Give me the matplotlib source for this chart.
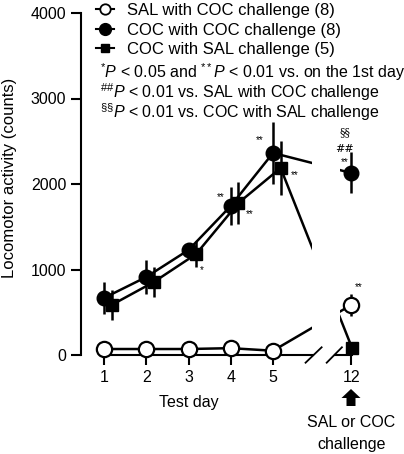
import matplotlib
matplotlib.use("Agg")
import matplotlib.pyplot as plt
import matplotlib.transforms as mtransforms
from matplotlib.lines import Line2D
from matplotlib.patches import FancyArrow

plt.rcParams['font.family'] = ['Liberation Sans', 'DejaVu Sans']
plt.rcParams['mathtext.fontset'] = 'custom'
plt.rcParams['mathtext.rm'] = 'Liberation Sans'
plt.rcParams['mathtext.it'] = 'Liberation Sans:italic'

# data
days = [1, 2, 3, 4, 5, 12]
sal_coc = [70, 70, 70, 80, 50, 585]
sal_coc_err = [50, 50, 50, 50, 50, 130]
coc_coc = [667, 912, 1228, 1743, 2363, 2129]
coc_coc_err = [185, 200, 80, 220, 360, 240]
coc_sal = [585, 854, 1181, 1778, 2187, 82]
coc_sal_err = [180, 170, 150, 240, 315, 60]

labels = ['SAL with COC challenge (8)', 'COC with COC challenge (8)',
          'COC with SAL challenge (5)']
notes = [r'$^{*}P$ < 0.05 and $^{**}P$ < 0.01 vs. on the 1st day',
         r'$^{\#\#}P$ < 0.01 vs. SAL with COC challenge',
         r'$^{\S\S}P$ < 0.01 vs. COC with SAL challenge']
stars = [  # (series, day index, text, dx in px, dy in counts)
    ('coc_coc', 3, '**', -10, 100),
    ('coc_sal', 3, '**', 11, -130),
    ('coc_sal', 2, '*', 6, -190),
    ('coc_coc', 4, '**', -13, 150),
    ('coc_sal', 4, '**', 14, -80),
    ('sal_coc', 5, '**', 7, 210),
]

# day 12 sits after an axis break
xpos = [1, 2, 3, 4, 5, 6.85]
shift = [0.18, 0.18, 0.18, 0.18, 0.18, 0.02]
xsq = [a + b for a, b in zip(xpos, shift)]

fig = plt.figure(figsize=(4.04, 4.54), dpi=100)
ax = fig.add_axes([81 / 404, 99 / 454, 285 / 404, 342 / 454])

lw = 1.8
ax.plot(xpos, sal_coc, color='black', lw=lw, zorder=2)
ax.plot(xpos, coc_coc, color='black', lw=lw, zorder=2)
ax.plot(xsq, coc_sal, color='black', lw=lw, zorder=2)
ax.errorbar(xpos, sal_coc, yerr=sal_coc_err, fmt='none', ecolor='black', elinewidth=1.8, zorder=2)
ax.errorbar(xpos, coc_coc, yerr=coc_coc_err, fmt='none', ecolor='black', elinewidth=1.8, zorder=2)
ax.errorbar(xsq, coc_sal, yerr=coc_sal_err, fmt='none', ecolor='black', elinewidth=1.8, zorder=2)

# blank out the lines where the axis is broken
ax.fill_between([5.93, 6.58], -300, 2500, color='white', lw=0, zorder=2.5)

ax.plot(xsq, coc_sal, ls='none', marker='s', ms=8, color='black', zorder=3, clip_on=False)
ax.plot(xpos, coc_coc, ls='none', marker='o', ms=10.5, color='black', zorder=3.5, clip_on=False)
ax.plot(xpos, sal_coc, ls='none', marker='o', ms=11, mfc='white', mec='black', mew=1.6,
        zorder=4, clip_on=False)

ax.set_xlim(0.456, 7.2)
ax.set_ylim(0, 4000)
ax.set_yticks([0, 1000, 2000, 3000, 4000])
ax.set_xticks(xpos)
ax.set_xticklabels([str(d) for d in days])
ax.tick_params(direction='out', length=7.5, width=1.5, labelsize=11.5, pad=3)
for s in ['top', 'right']:
    ax.spines[s].set_visible(False)
ax.spines['left'].set_linewidth(1.5)
ax.spines['bottom'].set_linewidth(1.5)
ax.spines['bottom'].set_bounds(1, 5.95)
ax.plot([6.47, 6.87], [0, 0], color='black', lw=1.5, clip_on=False, zorder=5)
ax.plot([5.77, 6.15], [-90, 90], color='black', lw=1.3, clip_on=False, zorder=5)
ax.plot([6.27, 6.63], [-90, 90], color='black', lw=1.3, clip_on=False, zorder=5)

fig.text(10 / 404, 1 - 178 / 454, 'Locomotor activity (counts)', rotation=90,
         fontsize=12, ha='center', va='center')
ax.text(3, -560, 'Test day', fontsize=11.5, ha='center', va='center')

# significance marks
series = {'sal_coc': (xpos, sal_coc), 'coc_coc': (xpos, coc_coc), 'coc_sal': (xsq, coc_sal)}
for name, i, txt, dx, dy in stars:
    xs, ys = series[name]
    ax.text(xs[i] + dx / 42.25, ys[i] + dy, txt, fontsize=7, ha='center', va='center')
ax.text(6.7, 2610, '§§', fontsize=8, ha='center', va='center', family='DejaVu Serif')
ax.text(6.7, 2410, '##', fontsize=8, ha='center', va='center', style='italic', family='DejaVu Serif')
ax.text(6.7, 2260, '**', fontsize=7, ha='center', va='center')

# challenge arrow, drawn in figure pixels
px = mtransforms.Affine2D().scale(1 / 404, 1 / 454) + fig.transFigure
fig.patches.append(FancyArrow(351, 454 - 406, 0, 17, width=9, head_width=19, head_length=9,
                              length_includes_head=True, color='black', lw=0, transform=px))
ax.text(6.85, -795, 'SAL or COC', fontsize=11.5, ha='center', va='center')
ax.text(6.85, -1050, 'challenge', fontsize=11.5, ha='center', va='center')

handles = [
    Line2D([], [], color='black', lw=1.5, marker='o', ms=7.5, mfc='white', mec='black', mew=1.3),
    Line2D([], [], color='black', lw=1.5, marker='o', ms=8.5),
    Line2D([], [], color='black', lw=1.5, marker='s', ms=5.5),
]
fig.legend(handles, labels, loc='upper left', bbox_to_anchor=(96 / 404, 1 - 3 / 454),
           frameon=False, fontsize=12, handlelength=1.1, handletextpad=0.75,
           labelspacing=0.27, borderpad=0, borderaxespad=0)

for k, note in enumerate(notes):
    fig.text(100 / 404, 1 - (72 + 20 * k) / 454, note, fontsize=11.5, va='center')

fig.savefig('out.png', dpi=100)
